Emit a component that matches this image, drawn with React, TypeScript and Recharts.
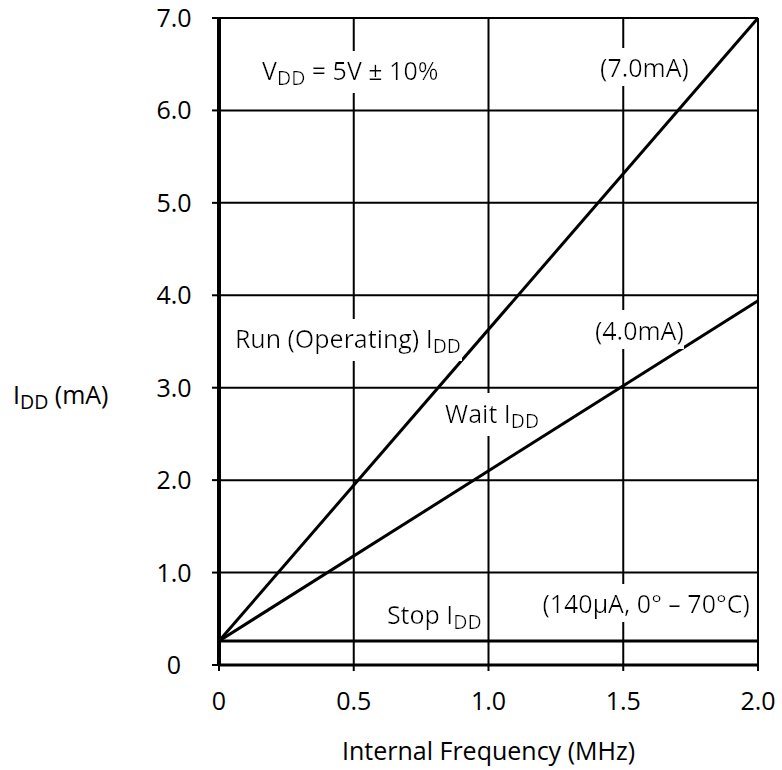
import { CartesianGrid, Line, LineChart, ReferenceDot, XAxis, YAxis } from "recharts"

// supply current vs internal frequency
const freqMHz = [0, 2.0]
const runIdd = [0.26, 7.0]
const waitIdd = [0.26, 3.94]
const stopIdd = [0.26, 0.26]

const xTicks = [0, 0.5, 1.0, 1.5, 2.0]
const xTickLabels = ["0", "0.5", "1.0", "1.5", "2.0"]
const yTicks = [0, 1, 2, 3, 4, 5, 6, 7]
const yTickLabels = ["0", "1.0", "2.0", "3.0", "4.0", "5.0", "6.0", "7.0"]

type Part = { t: string; sub?: boolean }

// annotations, placed at the start of their baseline (data units)
const notes: { x: number; y: number; parts: Part[] }[] = [
  { x: 0.16, y: 6.33, parts: [{ t: "V" }, { t: "DD", sub: true }, { t: " = 5V ± 10%" }] },
  { x: 1.414, y: 6.36, parts: [{ t: "(7.0mA)" }] },
  { x: 0.059, y: 3.43, parts: [{ t: "Run (Operating) I" }, { t: "DD", sub: true }] },
  { x: 1.395, y: 3.52, parts: [{ t: "(4.0mA)" }] },
  { x: 0.839, y: 2.62, parts: [{ t: "Wait I" }, { t: "DD", sub: true }] },
  { x: 0.623, y: 0.44, parts: [{ t: "Stop I" }, { t: "DD", sub: true }] },
  { x: 1.2, y: 0.56, parts: [{ t: "(140µA, 0° – 70°C)" }] },
]

const data = freqMHz.map((f, i) => ({ f, run: runIdd[i], wait: waitIdd[i], stop: stopIdd[i] }))

const FONT = "'Open Sans', sans-serif"
const SIZE = 25

function RichText({ x, y, parts, anchor = "start", filter }: { x: number; y: number; parts: Part[]; anchor?: string; filter?: string }) {
  let prevSub = false
  return (
    <text x={x} y={y} fontFamily={FONT} fontSize={SIZE} fontWeight={500} fill="#000" textAnchor={anchor} filter={filter} style={{ whiteSpace: "pre" }}>
      {parts.map((p, i) => {
        const dy = p.sub && !prevSub ? 5 : !p.sub && prevSub ? -5 : 0
        prevSub = !!p.sub
        return (
          <tspan key={i} dy={dy} fontSize={p.sub ? SIZE * 0.78 : SIZE}>
            {p.t}
          </tspan>
        )
      })}
    </text>
  )
}

export default function App() {
  return (
    <div style={{ position: "absolute", left: 0, top: 0, background: "#fff" }}>
      <LineChart width={782} height={770} data={data} margin={{ top: 18, right: 24, bottom: 75, left: 159 }}>
        <CartesianGrid stroke="#000" strokeWidth={2} />
        <XAxis
          dataKey="f"
          type="number"
          domain={[0, 2]}
          ticks={xTicks}
          height={30}
          stroke="#000"
          axisLine={{ strokeWidth: 3 }}
          tickLine={{ strokeWidth: 2 }}
          tickSize={6}
          tickMargin={0}
          tick={(p: any) => (
            <text x={p.x} y={p.y + 39} textAnchor="middle" fontFamily={FONT} fontSize={SIZE} fontWeight={500} fill="#000">
              {xTickLabels[xTicks.indexOf(p.payload.value)]}
            </text>
          )}
          label={{
            content: (p: any) => (
              <RichText x={p.viewBox.x + p.viewBox.width / 2} y={760} anchor="middle" parts={[{ t: "Internal Frequency (MHz)" }]} />
            ),
          }}
        />
        <YAxis
          type="number"
          domain={[0, 7]}
          ticks={yTicks}
          width={60}
          stroke="#000"
          axisLine={{ strokeWidth: 4 }}
          tickLine={{ strokeWidth: 2 }}
          tickSize={7}
          tickMargin={0}
          tick={(p: any) => (
            <text x={p.x - 38} y={p.y + 9} textAnchor="middle" fontFamily={FONT} fontSize={SIZE} fontWeight={500} fill="#000">
              {yTickLabels[yTicks.indexOf(p.payload.value)]}
            </text>
          )}
          label={{
            content: () => <RichText x={13} y={404} parts={[{ t: "I" }, { t: "DD", sub: true }, { t: " (mA)" }]} />,
          }}
        />
        {notes.map((n, i) => (
          <ReferenceDot
            key={i}
            x={n.x}
            y={n.y}
            r={0}
            shape={(p: any) => (
              <g>
                <defs>
                  <filter id={`bg${i}`} x="0" y="-0.05" width="1" height="1.1">
                    <feFlood floodColor="#fff" />
                    <feComposite in="SourceGraphic" />
                  </filter>
                </defs>
                <RichText x={p.cx} y={p.cy} parts={n.parts} filter={`url(#bg${i})`} />
              </g>
            )}
          />
        ))}
        <Line dataKey="run" stroke="#000" strokeWidth={3} dot={false} isAnimationActive={false} />
        <Line dataKey="wait" stroke="#000" strokeWidth={3} dot={false} isAnimationActive={false} />
        <Line dataKey="stop" stroke="#000" strokeWidth={3} dot={false} isAnimationActive={false} />
      </LineChart>
    </div>
  )
}
